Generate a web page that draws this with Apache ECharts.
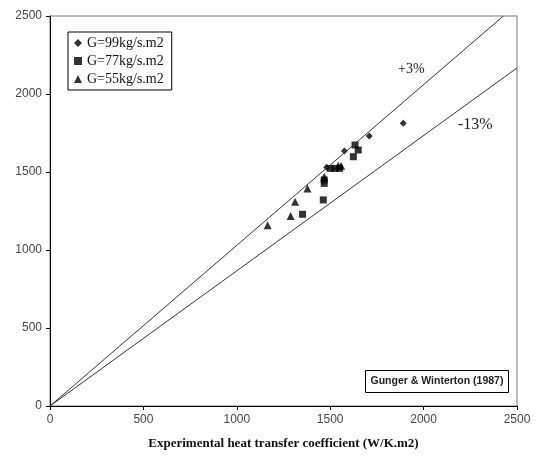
<!DOCTYPE html>
<html>
<head>
<meta charset="utf-8">
<script src="https://cdn.jsdelivr.net/npm/echarts@6/dist/echarts.min.js"></script>
<style>
  html, body { margin: 0; padding: 0; background: #fff; }
  #app { width: 538px; height: 457px; }
</style>
</head>
<body>
<div id="app"></div>
<script>
// data: [experimental, predicted]
const g99 = [[1891, 1812], [1709, 1730], [1576, 1635], [1481, 1530]];
const g77 = [[1633, 1673], [1650, 1641], [1624, 1598], [1500, 1523], [1526, 1523],
  [1550, 1523], [1468, 1449], [1468, 1427], [1463, 1321], [1352, 1229]];
const g55 = [[1543, 1540], [1558, 1540], [1468, 1470], [1378, 1395], [1312, 1310],
  [1288, 1218], [1165, 1158]];
// +3% / -13% deviation lines
const linePlus3 = [[0, 0], [2427, 2500]];
const lineMinus13 = [[0, 0], [2500, 2167]];

const myChart = echarts.init(document.getElementById("app"));

const tickLabel = {
  color: "#444", fontFamily: "Liberation Sans", fontSize: 12,
  formatter: (v) => String(v)
};

myChart.setOption({
  animation: false,
  grid: { left: 50, right: 21, top: 16, bottom: 51, show: true, borderColor: "#777", borderWidth: 1 },
  xAxis: {
    type: "value", min: 0, max: 2500, interval: 500,
    axisLine: { lineStyle: { color: "#000" } },
    axisTick: { show: true, length: 4, lineStyle: { color: "#000" } },
    splitLine: { show: false },
    axisLabel: Object.assign({ margin: 8 }, tickLabel),
    name: "Experimental heat transfer coefficient (W/K.m2)",
    nameLocation: "middle", nameGap: 31,
    nameTextStyle: { fontFamily: "Liberation Serif", fontWeight: "bold", fontSize: 13, color: "#111" }
  },
  yAxis: {
    type: "value", min: 0, max: 2500, interval: 500,
    axisLine: { lineStyle: { color: "#000" } },
    axisTick: { show: true, length: 4, lineStyle: { color: "#000" } },
    splitLine: { show: false },
    axisLabel: Object.assign({ margin: 8 }, tickLabel)
  },
  legend: {
    left: 68, top: 32, orient: "vertical",
    padding: [4, 8, 4, 6], itemGap: 4,
    itemWidth: 8, itemHeight: 8,
    borderColor: "#000", borderWidth: 1, borderRadius: 0,
    textStyle: { fontFamily: "Liberation Serif", fontSize: 14, color: "#111" },
    data: ["G=99kg/s.m2", "G=77kg/s.m2", "G=55kg/s.m2"]
  },
  graphic: [
    { type: "text", left: 398, top: 62, style: { text: "+3%", font: "14px Liberation Serif", fill: "#222" } },
    { type: "text", left: 458, top: 117, style: { text: "-13%", font: "16px Liberation Serif", fill: "#222" } },
    {
      type: "group", left: 365, top: 370,
      children: [
        { type: "rect", shape: { x: 0, y: 0, width: 143, height: 22 }, style: { fill: "#fff", stroke: "#000", lineWidth: 1 } },
        { type: "text", x: 5, y: 5, style: { text: "Gunger & Winterton (1987)", font: "bold 10.5px Liberation Sans", fill: "#222" } }
      ]
    }
  ],
  series: [
    { type: "line", data: linePlus3, symbol: "none", silent: true, lineStyle: { color: "#333", width: 1 } },
    { type: "line", data: lineMinus13, symbol: "none", silent: true, lineStyle: { color: "#333", width: 1 } },
    { name: "G=99kg/s.m2", type: "scatter", data: g99, symbol: "diamond", symbolSize: 7, itemStyle: { color: "#000" } },
    { name: "G=77kg/s.m2", type: "scatter", data: g77, symbol: "rect", symbolSize: 7, itemStyle: { color: "#000" } },
    { name: "G=55kg/s.m2", type: "scatter", data: g55, symbol: "triangle", symbolSize: 8, itemStyle: { color: "#000" } }
  ]
});
</script>
</body>
</html>
